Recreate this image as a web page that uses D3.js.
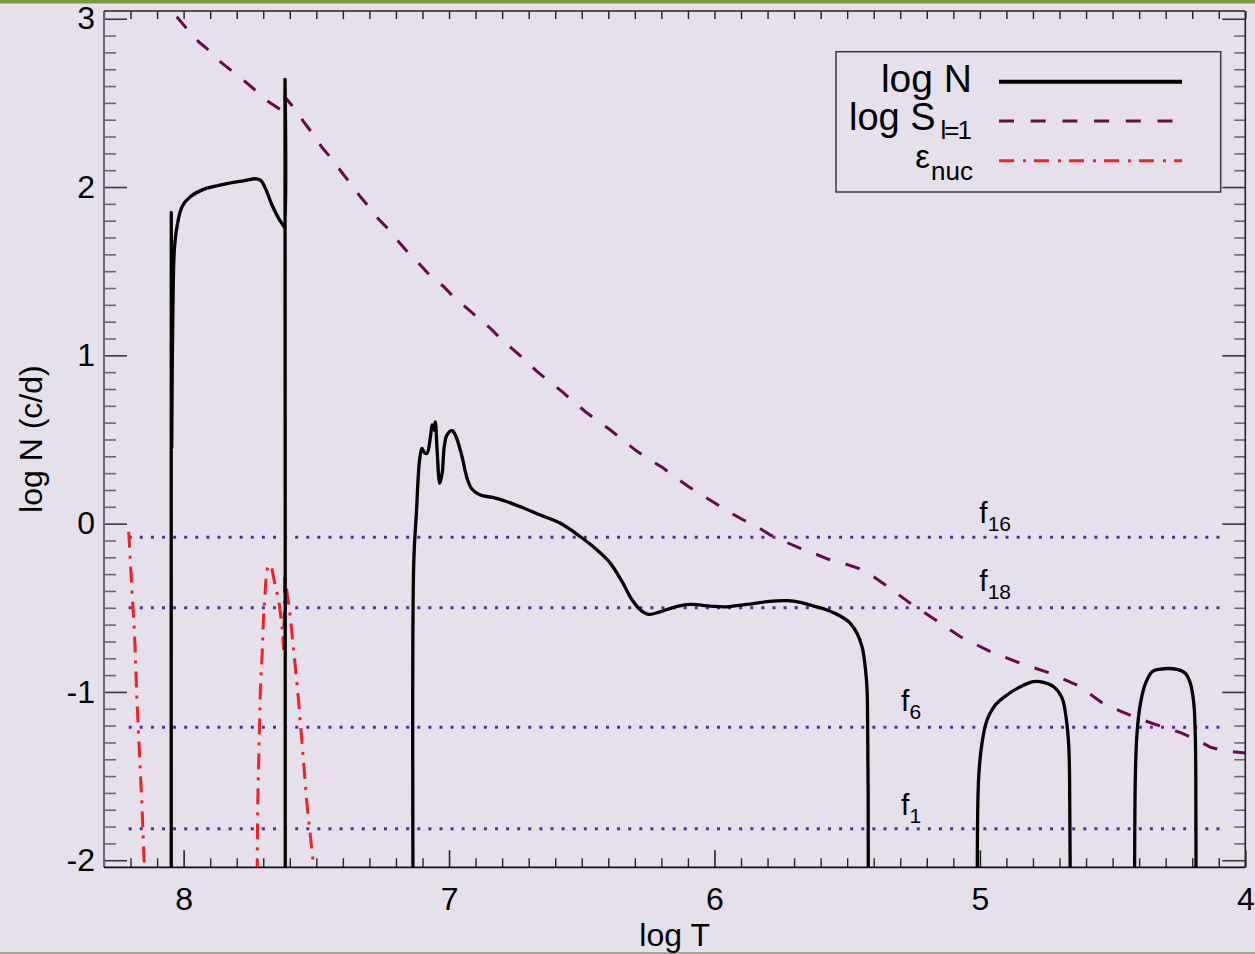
<!DOCTYPE html>
<html>
<head>
<meta charset="utf-8">
<script src="https://cdn.jsdelivr.net/npm/d3@7"></script>
<style>
  html, body { margin: 0; padding: 0; background: #e5e0ec; }
  svg { display: block; font-family: "Liberation Sans", Arial, Helvetica, sans-serif; }
</style>
</head>
<body>
<svg id="chart" width="1255" height="954"></svg>
<script>
// ---------------------------------------------------------------------------
// Data: Brunt-Vaisala frequency (log N), Lamb frequency for l=1 (log S_l=1)
// and nuclear energy generation (eps_nuc) against log T.  N^2 < 0 in the
// convective zones, so log N plunges below the plot there.
// ---------------------------------------------------------------------------
const xTickValues = [8, 7, 6, 5, 4];
const yTickValues = [-2, -1, 0, 1, 2, 3];

// log N, one array per radiative branch: [log T, log N]
const logNCore = [
  [8.0465, -3], [8.0465, 1.85], [8.045, 0.45], [8.043, 0.9], [8.040, 1.328],
  [8.035, 1.626], [8.025, 1.764], [8.006, 1.883], [7.975, 1.942], [7.925, 1.986],
  [7.849, 2.016], [7.774, 2.037], [7.726, 2.049], [7.708, 2.037], [7.692, 1.992],
  [7.667, 1.893], [7.642, 1.814], [7.623, 1.768], [7.619, 1.756], [7.618, 2.64],
  [7.617, -3]
];
const logNEnvelope = [
  [7.1335, -3], [7.133, -0.234], [7.123, 0.063], [7.111, 0.378], [7.102, 0.447],
  [7.092, 0.421], [7.083, 0.418], [7.070, 0.516], [7.064, 0.586], [7.058, 0.556],
  [7.052, 0.605], [7.045, 0.437], [7.035, 0.239], [7.026, 0.299], [7.018, 0.457],
  [7.008, 0.526], [6.989, 0.552], [6.976, 0.526], [6.951, 0.398], [6.932, 0.269],
  [6.913, 0.204], [6.882, 0.170], [6.832, 0.154], [6.781, 0.130], [6.731, 0.100],
  [6.656, 0.051], [6.580, 0.002], [6.505, -0.078], [6.442, -0.157], [6.392, -0.236],
  [6.348, -0.345], [6.310, -0.454], [6.279, -0.513], [6.248, -0.539], [6.204, -0.523],
  [6.154, -0.497], [6.091, -0.480], [6.016, -0.490], [5.953, -0.494], [5.877, -0.480],
  [5.802, -0.464], [5.726, -0.458], [5.676, -0.468], [5.626, -0.490], [5.576, -0.513],
  [5.526, -0.549], [5.488, -0.592], [5.463, -0.652], [5.444, -0.731], [5.432, -0.850],
  [5.425, -0.989], [5.423, -1.167], [5.421, -1.6], [5.420, -3]
];
const logNShell1 = [
  [5.007, -3], [5.005, -1.523], [4.992, -1.304], [4.973, -1.167], [4.942, -1.078],
  [4.898, -1.018], [4.847, -0.969], [4.798, -0.939], [4.760, -0.943], [4.722, -0.969],
  [4.690, -1.038], [4.674, -1.167], [4.665, -1.326], [4.662, -1.523], [4.660, -2.0],
  [4.659, -3]
];
const logNShell2 = [
  [4.418, -3], [4.414, -1.484], [4.408, -1.246], [4.395, -1.068], [4.376, -0.949],
  [4.351, -0.880], [4.326, -0.866], [4.257, -0.866], [4.226, -0.889], [4.207, -0.949],
  [4.194, -1.068], [4.188, -1.286], [4.186, -1.8], [4.185, -3]
];

// log S_l=1 : [log T, log S]
const logLamb = [
  [8.026, 3.012], [7.994, 2.952], [7.943, 2.863], [7.906, 2.814], [7.862, 2.745],
  [7.818, 2.689], [7.768, 2.626], [7.723, 2.566], [7.680, 2.507], [7.640, 2.465],
  [7.622, 2.447], [7.618, 2.534], [7.580, 2.462], [7.548, 2.388], [7.510, 2.309],
  [7.479, 2.236], [7.441, 2.165], [7.403, 2.085], [7.372, 2.022], [7.334, 1.942],
  [7.297, 1.873], [7.265, 1.808], [7.228, 1.749], [7.190, 1.675], [7.152, 1.606],
  [7.108, 1.537], [7.070, 1.471], [7.020, 1.408], [6.983, 1.348], [6.932, 1.279],
  [6.888, 1.220], [6.844, 1.160], [6.800, 1.091], [6.757, 1.032], [6.713, 0.972],
  [6.668, 0.903], [6.625, 0.849], [6.574, 0.784], [6.531, 0.724], [6.486, 0.665],
  [6.436, 0.605], [6.392, 0.556], [6.342, 0.493], [6.298, 0.437], [6.248, 0.382],
  [6.197, 0.335], [6.147, 0.275], [6.097, 0.219], [6.047, 0.170], [5.997, 0.121],
  [5.947, 0.071], [5.896, 0.026], [5.840, -0.018], [5.789, -0.068], [5.733, -0.108],
  [5.683, -0.143], [5.626, -0.176], [5.570, -0.212], [5.513, -0.236], [5.457, -0.266],
  [5.400, -0.316], [5.356, -0.365], [5.261, -0.474], [5.167, -0.573], [5.073, -0.672],
  [4.960, -0.761], [4.847, -0.830], [4.734, -0.889], [4.621, -0.969], [4.571, -1.029],
  [4.527, -1.078], [4.464, -1.118], [4.414, -1.151], [4.357, -1.183], [4.295, -1.216],
  [4.244, -1.242], [4.188, -1.280], [4.131, -1.329], [4.081, -1.349], [4.000, -1.363]
];

// eps_nuc (scaled), two burning regions: [log T, value]
const epsCore = [
  [8.207, -0.048], [8.194, -0.414], [8.185, -0.652], [8.176, -1.048],
  [8.157, -1.672], [8.148, -2.039], [8.140, -2.5]
];
const epsShell = [
  [7.725, -2.5], [7.721, -1.682], [7.711, -0.989], [7.704, -0.771], [7.699, -0.553],
  [7.690, -0.335], [7.684, -0.262], [7.676, -0.244], [7.668, -0.262], [7.659, -0.335],
  [7.642, -0.454], [7.629, -0.613], [7.623, -0.751], [7.619, -0.295], [7.610, -0.414],
  [7.598, -0.553], [7.583, -0.791], [7.567, -1.048], [7.535, -1.672], [7.510, -2.039],
  [7.500, -2.2]
];

// Mode frequencies (log of cycles/day) drawn as horizontal dotted lines
const modeNames = ["16", "18", "6", "1"];
const modeLogFreq = [-0.081, -0.50, -1.21, -1.813];
const modeSpan = [8.207, 4.083];      // log T range covered by the dotted lines

// Legend entries: main text and subscript
const legendLabels = [["log N", ""], ["log S", "l=1"], ["\u03b5", "nuc"]];

// ---------------------------------------------------------------------------
// Layout
// ---------------------------------------------------------------------------
const W = 1255, H = 954;
const plot = { left: 104, right: 1245.3, top: 11, bottom: 867.3 };

const svg = d3.select("#chart");

const x = d3.scaleLinear().domain([8.3, 4.0]).range([plot.left, plot.right]);
const y = d3.scaleLinear().domain([3.046, -2.042]).range([plot.top, plot.bottom]);

// page background and thin frame bars
svg.append("rect").attr("width", W).attr("height", H).attr("fill", "#e5e0ec");
svg.append("rect").attr("x", 0).attr("y", 0).attr("width", W).attr("height", 3.5).attr("fill", "#7b9a3b");
svg.append("rect").attr("x", 0).attr("y", H - 2).attr("width", W).attr("height", 2).attr("fill", "#a3a98d");

const defs = svg.append("defs");
defs.append("clipPath").attr("id", "plotClip")
  .append("rect")
  .attr("x", plot.left).attr("y", plot.top)
  .attr("width", plot.right - plot.left).attr("height", plot.bottom - plot.top);

// ---------------------------------------------------------------------------
// Axes (ticks drawn inward on all four sides)
// ---------------------------------------------------------------------------
const minorX = d3.range(83, 39, -1).map(v => v / 10).filter(v => !xTickValues.includes(v));
const minorY = d3.range(-20, 31).map(v => v / 10).filter(v => !yTickValues.includes(v));
const plainNumber = d => String(d);   // ASCII hyphen for negatives

function styleAxis(g, color, width) {
  g.select(".domain").remove();
  g.selectAll(".tick line").attr("stroke", color).attr("stroke-width", width);
  g.selectAll(".tick text").attr("fill", "#000").attr("font-size", 32);
}

// left
svg.append("g").attr("transform", `translate(${plot.left},0)`)
  .call(d3.axisLeft(y).tickValues(minorY).tickSizeInner(-12).tickSizeOuter(0).tickFormat(""))
  .call(g => styleAxis(g, "#6a6a6a", 1.6));
svg.append("g").attr("transform", `translate(${plot.left},0)`)
  .call(d3.axisLeft(y).tickValues(yTickValues).tickSizeInner(-23).tickSizeOuter(0)
    .tickPadding(9).tickFormat(plainNumber))
  .call(g => styleAxis(g, "#3a3a3a", 1.6));

// right
svg.append("g").attr("transform", `translate(${plot.right},0)`)
  .call(d3.axisRight(y).tickValues(minorY).tickSizeInner(-11).tickSizeOuter(0).tickFormat(""))
  .call(g => styleAxis(g, "#6a6a6a", 1.6));
svg.append("g").attr("transform", `translate(${plot.right},0)`)
  .call(d3.axisRight(y).tickValues(yTickValues).tickSizeInner(-23).tickSizeOuter(0).tickFormat(""))
  .call(g => styleAxis(g, "#3a3a3a", 1.6));

// bottom
svg.append("g").attr("transform", `translate(0,${plot.bottom})`)
  .call(d3.axisBottom(x).tickValues(minorX).tickSizeInner(-9).tickSizeOuter(0).tickFormat(""))
  .call(g => styleAxis(g, "#222", 1.4));
svg.append("g").attr("transform", `translate(0,${plot.bottom})`)
  .call(d3.axisBottom(x).tickValues(xTickValues).tickSizeInner(-17).tickSizeOuter(0)
    .tickPadding(20).tickFormat(plainNumber))
  .call(g => styleAxis(g, "#222", 1.6));

// top
svg.append("g").attr("transform", `translate(0,${plot.top})`)
  .call(d3.axisTop(x).tickValues(minorX.concat(xTickValues)).tickSizeInner(-8).tickSizeOuter(0).tickFormat(""))
  .call(g => styleAxis(g, "#222", 1.4));

// plot frame
svg.append("line").attr("x1", plot.left).attr("x2", plot.left)
  .attr("y1", plot.top).attr("y2", plot.bottom).attr("stroke", "#6a6a6a").attr("stroke-width", 2);
svg.append("line").attr("x1", plot.right).attr("x2", plot.right)
  .attr("y1", plot.top).attr("y2", plot.bottom).attr("stroke", "#222").attr("stroke-width", 1.6);
svg.append("line").attr("x1", plot.left).attr("x2", plot.right)
  .attr("y1", plot.top).attr("y2", plot.top).attr("stroke", "#222").attr("stroke-width", 1.6);
svg.append("line").attr("x1", plot.left).attr("x2", plot.right)
  .attr("y1", plot.bottom).attr("y2", plot.bottom).attr("stroke", "#111").attr("stroke-width", 1.8);

// axis titles
svg.append("text")
  .attr("x", (plot.left + plot.right) / 2).attr("y", 946)
  .attr("text-anchor", "middle").attr("font-size", 32).text("log T");
svg.append("text")
  .attr("transform", `translate(42,${(plot.top + plot.bottom) / 2}) rotate(-90)`)
  .attr("text-anchor", "middle").attr("font-size", 32).text("log N (c/d)");

// ---------------------------------------------------------------------------
// Curves
// ---------------------------------------------------------------------------
const curves = svg.append("g").attr("clip-path", "url(#plotClip)");

// mode frequencies
const modeG = curves.append("g");
modeLogFreq.forEach(f => {
  modeG.append("line")
    .attr("x1", x(modeSpan[0])).attr("x2", x(modeSpan[1]))
    .attr("y1", y(f)).attr("y2", y(f))
    .attr("stroke", "#5b2d90").attr("stroke-width", 3)
    .attr("stroke-dasharray", "3,8.1");
});

const lineLinear = d3.line().x(d => x(d[0])).y(d => y(d[1]));
const lineSmooth = d3.line().x(d => x(d[0])).y(d => y(d[1])).curve(d3.curveCatmullRom.alpha(0.5));

// eps_nuc
[epsCore, epsShell].forEach(seg => {
  curves.append("path").attr("d", lineLinear(seg))
    .attr("fill", "none").attr("stroke", "#ee2227").attr("stroke-width", 3)
    .attr("stroke-dasharray", "16,8,3,8");
});

// Lamb frequency
curves.append("path").attr("d", lineLinear(logLamb))
  .attr("fill", "none").attr("stroke", "#680a4c").attr("stroke-width", 3)
  .attr("stroke-dasharray", "15,16");

// Brunt-Vaisala frequency
[logNCore, logNEnvelope, logNShell1, logNShell2].forEach(seg => {
  curves.append("path").attr("d", lineSmooth(seg))
    .attr("fill", "none").attr("stroke", "#000").attr("stroke-width", 3.3)
    .attr("stroke-linejoin", "round");
});

// mode labels
const modeLabelT = [5.002, 5.002, 5.297, 5.297];
const modeLabelLift = [14, 17, 16, 14];
modeNames.forEach((name, i) => {
  const t = svg.append("text")
    .attr("x", x(modeLabelT[i])).attr("y", y(modeLogFreq[i]) - modeLabelLift[i])
    .attr("font-size", 30);
  t.append("tspan").text("f");
  t.append("tspan").attr("dy", 8).attr("font-size", 21).text(name);
});

// ---------------------------------------------------------------------------
// Legend: main symbol and subscript are separate text runs, both set
// flush against the right-hand anchor of each row
// ---------------------------------------------------------------------------
const legend = svg.append("g");
legend.append("rect")
  .attr("x", 836).attr("y", 51.7).attr("width", 384.7).attr("height", 140.3)
  .attr("fill", "none").attr("stroke", "#3a3a3a").attr("stroke-width", 1.5);

const legendStyles = [
  { stroke: "#000", width: 4, dash: null, y: 81.7, base: 92, size: 39, sub: 0, gap: 0, anchor: 972 },
  { stroke: "#680a4c", width: 3, dash: "15,16.7", y: 121, base: 129.5, size: 38, sub: 9, gap: 5, anchor: 970 },
  { stroke: "#ee2227", width: 3, dash: "15,9,3,8", y: 160.7, base: 168, size: 33, sub: 12, gap: 1, anchor: 973 }
];
legendLabels.forEach((lab, i) => {
  const s = legendStyles[i];
  legend.append("line")
    .attr("x1", 999).attr("x2", 1182).attr("y1", s.y).attr("y2", s.y)
    .attr("stroke", s.stroke).attr("stroke-width", s.width)
    .attr("stroke-dasharray", s.dash);
  let mainRight = s.anchor;
  if (lab[1]) {
    const sub = legend.append("text")
      .attr("x", s.anchor).attr("y", s.base + s.sub)
      .attr("text-anchor", "end").attr("font-size", 26)
      .attr("letter-spacing", i === 1 ? -2 : 0)
      .text(lab[1]);
    mainRight = s.anchor - sub.node().getComputedTextLength() - s.gap;
  }
  legend.append("text")
    .attr("x", mainRight).attr("y", s.base)
    .attr("text-anchor", "end").attr("font-size", s.size)
    .text(lab[0]);
});
</script>
</body>
</html>
